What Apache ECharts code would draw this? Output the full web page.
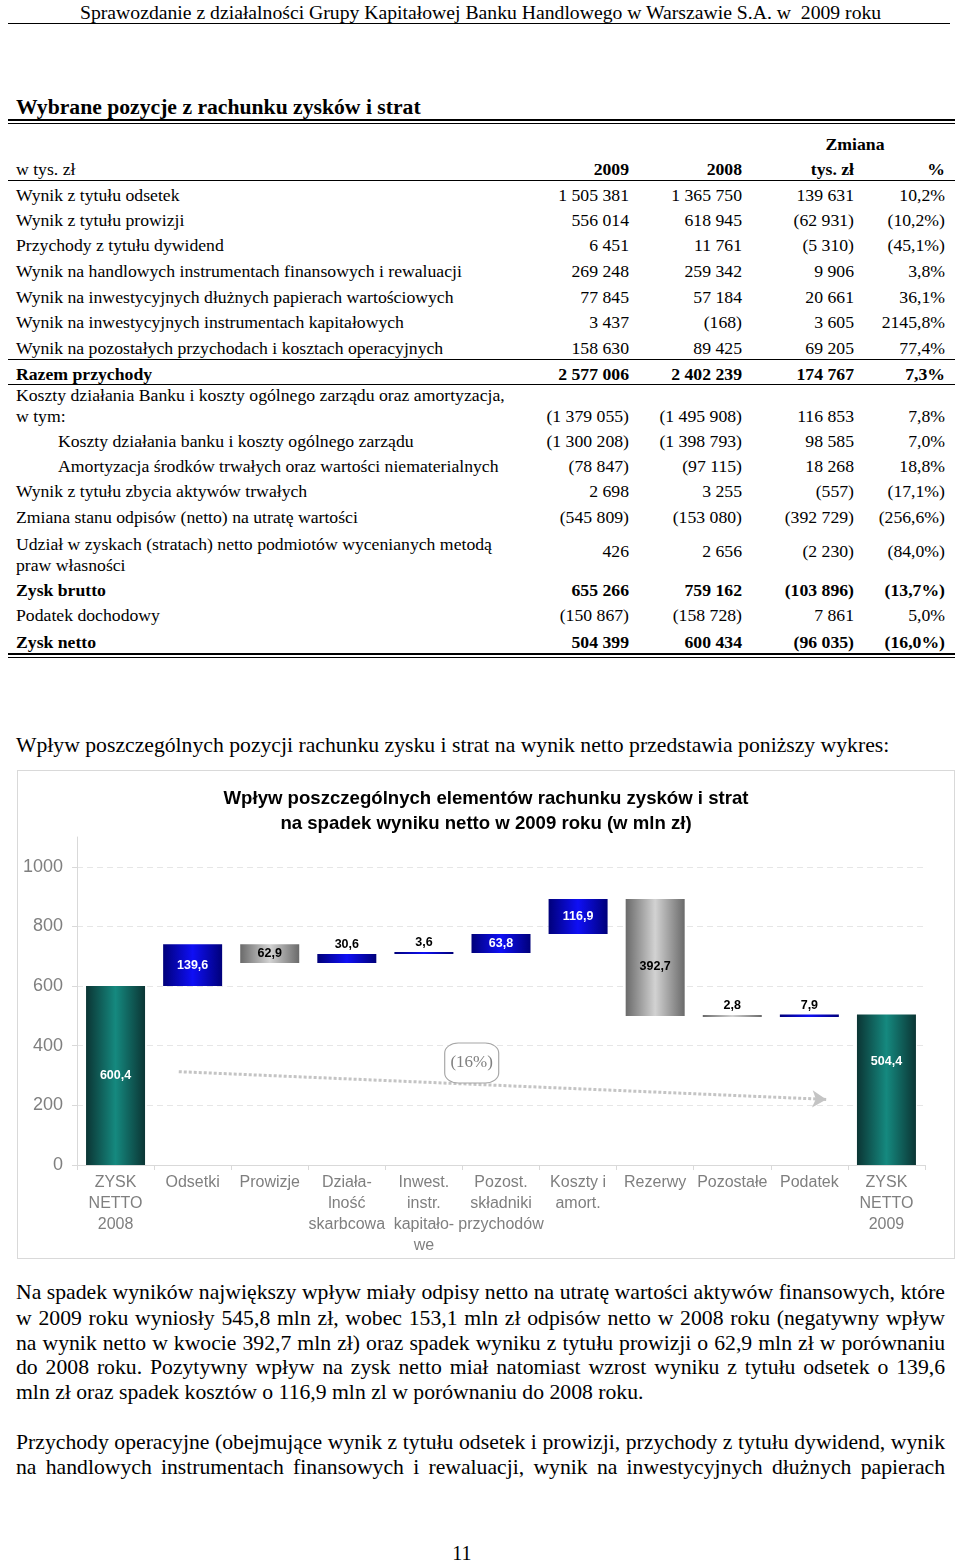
<!DOCTYPE html>
<html lang="pl">
<head>
<meta charset="utf-8">
<title>Wybrane pozycje z rachunku zysków i strat</title>
<script src="https://cdn.jsdelivr.net/npm/echarts@6/dist/echarts.min.js"></script>
<style>
  html, body { margin: 0; padding: 0; background: #fff; }
  #page { position: relative; width: 960px; height: 1561px; overflow: hidden;
          font-family: 'Liberation Serif', 'Times New Roman', serif; color: #000; }
  .t { position: absolute; white-space: nowrap; }
  .rule { position: absolute; background: #000; }
  #chart { position: absolute; left: 17px; top: 770px; width: 938px; height: 489px;
           box-sizing: border-box; border: 1px solid #d9d9d9; }
</style>
</head>
<body>
<div id="page">
  <div id="chart"></div>
</div>
<script>
// ---------------- chart data ----------------
const categories = [
  'ZYSK\nNETTO\n2008', 'Odsetki', 'Prowizje', 'Działa-\nlność\nskarbcowa',
  'Inwest.\ninstr.\nkapitało-\nwe', 'Pozost.\nskładniki\nprzychodów', 'Koszty i\namort.',
  'Rezerwy', 'Pozostałe', 'Podatek', 'ZYSK\nNETTO\n2009'
];
// first and last are totals, the rest are changes (mln zł)
const changes = [600.4, 139.6, -62.9, 30.6, 3.6, 63.8, 116.9, -392.7, -2.8, 7.9, 504.4];
const yTicks = [0, 200, 400, 600, 800, 1000];
const chartTitle = 'Wpływ poszczególnych elementów rachunku zysków i strat\nna spadek wyniku netto w 2009 roku (w mln zł)';
const changeNote = '(16%)';

// ---------------- table data ----------------
const tableRows = [
  ['Wynik z tytułu odsetek', '1 505 381', '1 365 750', '139 631', '10,2%'],
  ['Wynik z tytułu prowizji', '556 014', '618 945', '(62 931)', '(10,2%)'],
  ['Przychody z tytułu dywidend', '6 451', '11 761', '(5 310)', '(45,1%)'],
  ['Wynik na handlowych instrumentach finansowych i rewaluacji', '269 248', '259 342', '9 906', '3,8%'],
  ['Wynik na inwestycyjnych dłużnych papierach wartościowych', '77 845', '57 184', '20 661', '36,1%'],
  ['Wynik na inwestycyjnych instrumentach kapitałowych', '3 437', '(168)', '3 605', '2145,8%'],
  ['Wynik na pozostałych przychodach i kosztach operacyjnych', '158 630', '89 425', '69 205', '77,4%'],
  ['Razem przychody', '2 577 006', '2 402 239', '174 767', '7,3%'],
  ['Koszty działania Banku i koszty ogólnego zarządu oraz amortyzacja,\nw tym:', '(1 379 055)', '(1 495 908)', '116 853', '7,8%'],
  ['Koszty działania banku i koszty ogólnego zarządu', '(1 300 208)', '(1 398 793)', '98 585', '7,0%'],
  ['Amortyzacja środków trwałych oraz wartości niematerialnych', '(78 847)', '(97 115)', '18 268', '18,8%'],
  ['Wynik z tytułu zbycia aktywów trwałych', '2 698', '3 255', '(557)', '(17,1%)'],
  ['Zmiana stanu odpisów (netto) na utratę wartości', '(545 809)', '(153 080)', '(392 729)', '(256,6%)'],
  ['Udział w zyskach (stratach) netto podmiotów wycenianych metodą\npraw własności', '426', '2 656', '(2 230)', '(84,0%)'],
  ['Zysk brutto', '655 266', '759 162', '(103 896)', '(13,7%)'],
  ['Podatek dochodowy', '(150 867)', '(158 728)', '7 861', '5,0%'],
  ['Zysk netto', '504 399', '600 434', '(96 035)', '(16,0%)']
];
const boldRows = [7, 14, 16];
const indentRows = [9, 10];

const para1 = [
  'Na spadek wyników największy wpływ miały odpisy netto na utratę wartości aktywów finansowych, które',
  'w 2009 roku wyniosły 545,8 mln zł, wobec 153,1 mln zł odpisów netto w 2008 roku (negatywny wpływ',
  'na wynik netto w kwocie 392,7 mln zł) oraz spadek wyniku z tytułu prowizji o 62,9 mln zł w porównaniu',
  'do 2008 roku. Pozytywny wpływ na zysk netto miał natomiast wzrost wyniku z tytułu odsetek o 139,6',
  'mln zł oraz spadek kosztów o 116,9 mln zl w porównaniu do 2008 roku.'
];
const para2 = [
  'Przychody operacyjne (obejmujące wynik z tytułu odsetek i prowizji, przychody z tytułu dywidend, wynik',
  'na handlowych instrumentach finansowych i rewaluacji, wynik na inwestycyjnych dłużnych papierach'
];

// ---------------- page layout helpers ----------------
const page = document.getElementById('page');
function txt(s, x, cy, o) {
  o = o || {};
  const size = o.size || 17.7;
  const lh = o.lh || Math.round(size * 1.25);
  const d = document.createElement('div');
  d.className = 't';
  d.textContent = s;
  d.style.fontSize = size + 'px';
  d.style.lineHeight = lh + 'px';
  d.style.top = (cy - lh / 2) + 'px';
  if (o.bold) d.style.fontWeight = 'bold';
  if (o.align === 'right') { d.style.right = (960 - x) + 'px'; d.style.textAlign = 'right'; }
  else if (o.align === 'center') { d.style.left = (x - 480) + 'px'; d.style.width = '960px'; d.style.textAlign = 'center'; }
  else d.style.left = x + 'px';
  page.appendChild(d);
  return d;
}
// left-aligned text whose size is tuned to span a given width
function fitted(s, x, cy, width, o) {
  const d = txt(s, x, cy, o);
  const w = d.getBoundingClientRect().width;
  const size = (o.size || 17.7) * width / w;
  d.style.fontSize = size + 'px';
  return d;
}
function rule(x1, x2, y, h) {
  const d = document.createElement('div');
  d.className = 'rule';
  d.style.left = x1 + 'px'; d.style.width = (x2 - x1) + 'px';
  d.style.top = y + 'px'; d.style.height = h + 'px';
  page.appendChild(d);
}
function justified(s, x, cy, width, size) {
  const d = txt(s, x, cy, { size: size, lh: 24 });
  const w = d.getBoundingClientRect().width;
  const spaces = (s.match(/ /g) || []).length;
  if (spaces > 0) d.style.wordSpacing = ((width - w) / spaces) + 'px';
}

// header
fitted('Sprawozdanie z działalności Grupy Kapitałowej Banku Handlowego w Warszawie S.A. w\u00a0 2009 roku', 80, 12, 802, { size: 20, lh: 24 });
rule(8, 950, 23, 1);
fitted('Wybrane pozycje z rachunku zysków i strat', 16, 107, 405, { size: 20, lh: 26, bold: true });
rule(8, 955, 119, 2);
rule(8, 955, 123, 1);

// table header
const colRight = [629, 742, 854, 945];
txt('Zmiana', 855, 144, { bold: true, align: 'center' });
txt('w tys. zł', 16, 169, {});
['2009', '2008', 'tys. zł', '%'].forEach((h, i) => txt(h, colRight[i], 169, { bold: true, align: 'right' }));
rule(8, 955, 180, 1);

// table rows
const rowCenters = [195, 220, 245, 271, 297, 322, 348, 374, 416, 441, 466, 491, 517, 551, 590, 615, 642];
tableRows.forEach((r, i) => {
  const bold = boldRows.includes(i);
  const x = indentRows.includes(i) ? 58 : 16;
  const cy = rowCenters[i];
  const lines = r[0].split('\n');
  if (lines.length === 2) {
    if (i === 8) { txt(lines[0], x, 395, { bold }); txt(lines[1], x, 416, { bold }); }
    else { txt(lines[0], x, 544, { bold }); txt(lines[1], x, 565, { bold }); }
  } else txt(lines[0], x, cy, { bold });
  for (let c = 0; c < 4; c++) txt(r[c + 1], colRight[c], cy, { bold, align: 'right' });
});
rule(8, 955, 359, 1);
rule(8, 955, 384, 1);
rule(8, 955, 653, 2);
rule(8, 955, 657, 1);

// text
const bodySize = 21.7;
txt('Wpływ poszczególnych pozycji rachunku zysku i strat na wynik netto przedstawia poniższy wykres:', 16, 745, { size: bodySize, lh: 26 });
const p1y = [1292, 1318, 1343, 1367, 1392];
para1.forEach((s, i) => {
  if (i < para1.length - 1) justified(s, 16, p1y[i], 929, bodySize);
  else txt(s, 16, p1y[i], { size: bodySize, lh: 24 });
});
const p2y = [1442, 1467];
para2.forEach((s, i) => justified(s, 16, p2y[i], 929, bodySize));
txt('11', 462, 1553, { size: 20, align: 'center' });

// ---------------- chart ----------------
const bases = [], heights = [], kinds = [];
let running = 0;
changes.forEach((v, i) => {
  const isTotal = i === 0 || i === changes.length - 1;
  if (isTotal) { bases.push(0); heights.push(v); kinds.push('total'); running = v; }
  else if (v >= 0) { bases.push(running); heights.push(v); kinds.push('up'); running += v; }
  else { running += v; bases.push(running); heights.push(-v); kinds.push('down'); }
});

function grad(edge, mid) {
  return new echarts.graphic.LinearGradient(0, 0, 1, 0, [
    { offset: 0, color: edge }, { offset: 0.5, color: mid }, { offset: 1, color: edge }
  ]);
}
const fills = {
  total: grad('#0b3534', '#15897f'),
  up: grad('#00007a', '#0f0ff5'),
  down: grad('#6a6a6a', '#d2d2d2')
};
const fmt = v => Math.abs(v).toFixed(1).replace('.', ',');
const labelFont = { fontFamily: 'Liberation Sans, Arial, sans-serif', fontWeight: 'bold', fontSize: 12.5 };

const visData = heights.map((h, i) => {
  const k = kinds[i];
  let label;
  if (h < 40) {
    label = Object.assign({ show: true, position: 'top', distance: 3, color: '#000' }, labelFont);
  } else if (k === 'total' && i === changes.length - 1) {
    label = Object.assign({ show: true, position: 'insideTop', distance: 40, color: '#fff' }, labelFont);
  } else {
    label = Object.assign({ show: true, position: 'inside', color: k === 'down' ? '#000' : '#fff',
                            offset: (k === 'down' && h > 300) ? [0, 9] : [0, 0] }, labelFont);
  }
  return { value: h, itemStyle: { color: fills[k] }, label: Object.assign(label, { formatter: fmt(changes[i]) }) };
});

const axisGrey = '#7f7f7f';
const lineGrey = '#d9d9d9';
const chart = echarts.init(document.getElementById('chart'));
chart.setOption({
  animation: false,
  title: {
    text: chartTitle,
    left: 'center', top: 10,
    textStyle: { fontFamily: 'Liberation Sans, Arial, sans-serif', fontSize: 18.6, fontWeight: 'bold', color: '#000', lineHeight: 25 }
  },
  grid: { left: 59, top: 66, width: 848, height: 328, containLabel: false },
  xAxis: [{
    type: 'category', data: categories,
    axisLine: { lineStyle: { color: lineGrey, width: 1 } },
    axisTick: { show: true, length: 5, lineStyle: { color: lineGrey } },
    axisLabel: { interval: 0, margin: 7, color: axisGrey, fontSize: 16, lineHeight: 21,
                 fontFamily: 'Liberation Sans, Arial, sans-serif' }
  }, {
    type: 'value', min: 0, max: categories.length, show: false
  }],
  yAxis: {
    type: 'value', min: 0, max: 1100, interval: 200,
    axisLine: { show: true, lineStyle: { color: lineGrey } },
    axisTick: { show: true, length: 5, lineStyle: { color: lineGrey } },
    axisLabel: { showMaxLabel: false, margin: 14, color: axisGrey, fontSize: 18,
                 fontFamily: 'Liberation Sans, Arial, sans-serif',
                 formatter: v => yTicks.includes(v) ? String(v) : '' },
    splitLine: { show: true, showMinLine: false, showMaxLine: false,
                 lineStyle: { color: '#e6e6e6', type: [6, 4], width: 1 } }
  },
  series: [{
    name: 'base', type: 'bar', stack: 'wf', data: bases, barWidth: 59,
    itemStyle: { color: 'transparent' }, silent: true
  }, {
    name: 'value', type: 'bar', stack: 'wf', data: visData, barWidth: 59, barMinHeight: 2
  }, {
    name: 'annotation', type: 'line', xAxisIndex: 1, yAxisIndex: 0, data: [], silent: true,
    markLine: {
      silent: true, symbol: ['none', 'arrow'], symbolSize: [13, 14],
      label: { show: false },
      lineStyle: { color: '#c4c4c4', type: [3, 2], width: 3 },
      data: [[{ coord: [1.32, 313] }, { coord: [9.72, 220] }]]
    },
    markPoint: {
      silent: true,
      data: [{
        coord: [5.12, 342], symbol: 'roundRect', symbolSize: [54, 40],
        itemStyle: { color: '#fff', borderColor: '#a6a6a6', borderWidth: 1 },
        label: { show: true, position: 'inside', formatter: changeNote, color: '#808080',
                 fontFamily: 'Liberation Serif, Times New Roman, serif', fontSize: 17 }
      }]
    }
  }]
});
</script>
</body>
</html>
